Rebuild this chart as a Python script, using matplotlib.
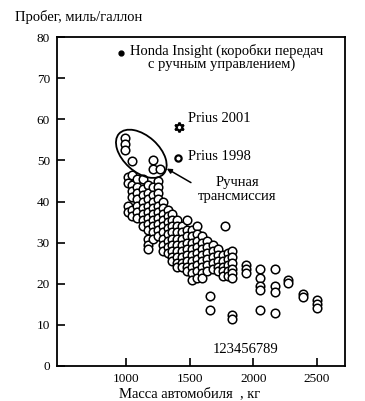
import numpy as np
import matplotlib.pyplot as plt
from matplotlib.patches import Ellipse
import matplotlib.transforms as mtransforms

plt.rcParams['font.family'] = ['Liberation Serif', 'DejaVu Serif']

# Данные: масса автомобиля (кг) и пробег (миль/галлон), по столбцам
col_mass = [990, 1015, 1050, 1090, 1130, 1170, 1210, 1250, 1270, 1290, 1330, 1365,
            1400, 1440, 1480, 1520, 1560, 1600, 1640, 1660, 1680, 1720, 1760, 1780,
            1800, 1830, 1940, 2050, 2170, 2270, 2390, 2500]
col_mpg = [
    [55.5, 54.0, 52.5],
    [46.0, 44.5, 39.0, 37.5],
    [49.8, 46.5, 44.0, 42.5, 41.0, 38.0, 36.5],
    [45.5, 43.5, 42.0, 40.5, 39.0, 37.5, 36.0],
    [45.5, 43.0, 41.5, 40.0, 38.5, 37.0, 35.5, 34.0],
    [44.0, 42.0, 40.5, 39.0, 37.5, 36.0, 34.5, 33.0, 31.0, 29.5, 28.5],
    [50.0, 48.0, 43.5, 41.5, 40.0, 38.5, 37.0, 35.5, 34.0, 32.5, 31.0],
    [45.0, 43.5, 42.0, 40.5, 39.0, 37.5, 36.0, 34.5, 33.0, 31.5],
    [48.0],
    [40.0, 38.5, 37.0, 35.5, 34.0, 32.5, 31.0, 29.5, 28.0],
    [38.0, 36.5, 35.0, 33.5, 32.0, 30.5, 29.0, 27.5],
    [37.0, 35.5, 34.0, 32.5, 31.0, 29.5, 28.0, 26.5, 25.5],
    [35.5, 34.0, 32.5, 31.0, 29.5, 28.0, 26.5, 25.0, 24.0],
    [34.0, 32.5, 31.0, 29.5, 28.0, 26.5, 25.0, 24.0],
    [35.5, 33.0, 31.5, 30.0, 28.5, 27.0, 25.5, 24.0, 23.0],
    [33.0, 31.5, 30.0, 28.5, 27.0, 25.5, 24.0, 22.5, 21.0],
    [34.0, 32.0, 30.5, 29.0, 27.5, 26.0, 24.5, 23.0, 21.5],
    [31.5, 30.0, 28.5, 27.0, 25.5, 24.0, 22.5, 21.5],
    [30.5, 29.0, 27.5, 26.0, 24.5, 23.0],
    [17.0, 13.5],
    [29.5, 28.0, 26.5, 25.0, 23.5],
    [28.5, 27.0, 25.5, 24.0, 23.0],
    [27.0, 25.5, 24.0, 23.0, 22.0],
    [34.0],
    [27.5, 26.0, 24.5, 23.0, 22.0],
    [28.0, 26.5, 25.0, 23.5, 22.5, 21.5, 12.5, 11.5],
    [24.5, 23.5, 22.5],
    [23.5, 21.5, 19.5, 18.5, 13.5],
    [23.5, 19.5, 18.0, 12.8],
    [21.0, 20.3],
    [17.5, 16.8],
    [16.0, 15.0, 14.0],
]

honda = (960, 76.1)
prius2001 = (1417, 58.1)
prius1998 = (1410, 50.6)

x_ticks = [1000, 1500, 2000, 2500]
y_ticks = [0, 10, 20, 30, 40, 50, 60, 70, 80]

mass = np.concatenate([[m] * len(v) for m, v in zip(col_mass, col_mpg)])
mpg = np.concatenate(col_mpg)

fig = plt.figure(figsize=(3.65, 4.01), dpi=100)
ax = fig.add_axes([0.156, 0.0873, 0.789, 0.8204])

ax.scatter(mass, mpg, s=38, facecolor='white', edgecolor='black', linewidths=1.1, zorder=3)

# выделенные модели
ax.plot(*honda, marker='o', ms=3.5, color='black', zorder=4)
ax.plot(*prius2001, marker=(6, 1, 0), ms=7, mfc='white', mec='black', mew=1.6, zorder=4)
ax.plot(*prius1998, marker='o', ms=4.5, mfc='white', mec='black', mew=1.6, zorder=4)

fs = 10.5
ax.text(1031, 76.6, 'Honda Insight (коробки передач', fontsize=fs, va='center', ha='left')
ax.text(1173, 73.4, 'с ручным управлением)', fontsize=fs, va='center', ha='left')
ax.text(1487, 60.3, 'Prius 2001', fontsize=fs, va='center', ha='left')
ax.text(1487, 51.0, 'Prius 1998', fontsize=fs, va='center', ha='left')
ax.text(1873, 43.0, 'Ручная\nтрансмиссия', fontsize=fs, va='center', ha='center',
        linespacing=1.1)
ax.text(1936, 3.9, '123456789', fontsize=fs, va='center', ha='center')

# эллипс вокруг машин с ручной коробкой
tr = fig.dpi_scale_trans + mtransforms.ScaledTranslation(1120, 51.6, ax.transData)
ax.add_patch(Ellipse((0, 0), 0.60, 0.36, angle=-42, transform=tr, fill=False,
                     edgecolor='black', linewidth=1.3, zorder=5))
ax.annotate('', xy=(1320, 48.0), xytext=(1510, 44.6),
            arrowprops=dict(arrowstyle='-|>', color='black', lw=1.1,
                            mutation_scale=7, shrinkA=0, shrinkB=0))

ax.set_xlim(457, 2720)
ax.set_ylim(0, 80)
ax.set_xticks(x_ticks)
ax.set_yticks(y_ticks)
ax.tick_params(direction='in', length=6, width=1.2, labelsize=9.5, pad=5,
               top=False, right=False)
for sp in ax.spines.values():
    sp.set_linewidth(1.3)

fig.text(15 / 365, 1 - 17 / 401, 'Пробег, миль/галлон', fontsize=fs, ha='left', va='center')
fig.text(190 / 365, 1 - 394 / 401, 'Масса автомобиля  , кг', fontsize=fs, ha='center', va='center')

fig.savefig('out.png', dpi=100)
